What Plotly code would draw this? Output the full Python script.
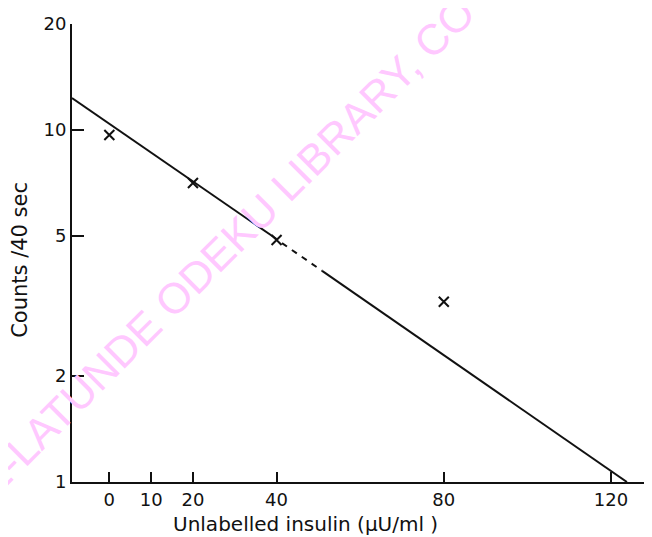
import plotly.graph_objects as go

# Data
insulin = [0, 20, 40, 80]            # unlabelled insulin (µU/ml)
counts = [9.68, 7.07, 4.87, 3.25]    # counts / 40 sec

# fitted line: solid, dashed, solid pieces
fit1_x = [-8.93, 40.0]
fit1_y = [12.33, 4.90]
fit2_x = [41.3, 50.9]
fit2_y = [4.77, 3.98]
fit3_x = [50.9, 123.8]
fit3_y = [3.98, 1.0]

x_ticks = [0, 10, 20, 40, 80, 120]
x_ticktext = ["0", "10", "20", "40", "80", "120"]
y_ticks = [1, 2, 5, 10, 20]
y_ticktext = ["1", "2", "5", "10", "20"]

x_title = "Unlabelled insulin (μU/ml )"
y_title = "Counts /40 sec"
watermark = "E-LATUNDE ODEKU LIBRARY, CO"

FONT = "DejaVu Sans"
INK = "#111111"

fig = go.Figure()
fig.add_trace(go.Scatter(x=fit1_x, y=fit1_y, mode="lines",
                         line=dict(color=INK, width=2), showlegend=False))
fig.add_trace(go.Scatter(x=fit2_x, y=fit2_y, mode="lines",
                         line=dict(color=INK, width=2, dash="6px,6px"), showlegend=False))
fig.add_trace(go.Scatter(x=fit3_x, y=fit3_y, mode="lines",
                         line=dict(color=INK, width=2), showlegend=False))
fig.add_trace(go.Scatter(x=insulin, y=counts, mode="markers",
                         marker=dict(symbol="x-thin", size=10,
                                     line=dict(color=INK, width=2)),
                         showlegend=False))

# the page body has an 8px margin, so the figure is 8px smaller than the window
fig.update_layout(
    width=644, height=529,
    margin=dict(l=64, r=0, t=16, b=55),
    paper_bgcolor="white", plot_bgcolor="white",
    font=dict(family=FONT, color=INK, size=17),
    xaxis=dict(
        range=[-8.93, 129.8], showgrid=False, zeroline=False,
        showline=True, linecolor=INK, linewidth=2,
        ticks="inside", ticklen=10, tickwidth=2, tickcolor=INK,
        tickvals=x_ticks, ticktext=x_ticktext,
        tickfont=dict(size=18, family=FONT),
    ),
    yaxis=dict(
        type="log", range=[0, 1.30103], showgrid=False, zeroline=False,
        showline=True, linecolor=INK, linewidth=2,
        ticks="inside", ticklen=12, tickwidth=2, tickcolor=INK,
        tickvals=y_ticks, ticktext=y_ticktext,
        tickfont=dict(size=18, family=FONT),
    ),
    annotations=[
        dict(text=watermark, xref="paper", yref="paper", x=0.264, y=0.513,
             xanchor="center", yanchor="middle", showarrow=False, textangle=-45,
             font=dict(size=43, family="Liberation Sans", color="rgb(255,200,255)")),
        dict(text=x_title, xref="paper", yref="paper", x=0.402, y=-0.092,
             xanchor="center", yanchor="middle", showarrow=False,
             font=dict(size=20, family=FONT, color=INK)),
        dict(text=y_title, xref="paper", yref="paper", x=-0.0897, y=0.485,
             xanchor="center", yanchor="middle", showarrow=False, textangle=-90,
             font=dict(size=21, family=FONT, color=INK)),
    ],
)

fig.write_html("out.html")
